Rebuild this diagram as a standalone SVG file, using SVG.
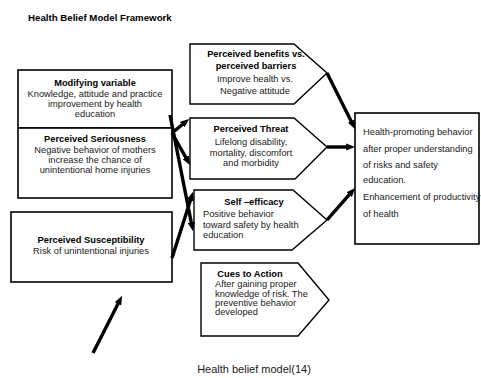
<svg xmlns="http://www.w3.org/2000/svg" width="481" height="378" viewBox="0 0 481 378">
<defs>
<marker id="ah" viewBox="0 0 10 8" markerWidth="9" markerHeight="7.5" refX="2" refY="4" orient="auto" markerUnits="userSpaceOnUse">
<path d="M0,0 L10,4 L0,8 z" fill="#000"/>
</marker>
<style>
text{font-family:"Liberation Sans",Arial,sans-serif;font-size:9.3px;fill:#1a1a1a}
.b{font-weight:bold;fill:#000}
.c{text-anchor:middle}
.box{fill:#fff;stroke:#000;stroke-width:1.6}
.pent{fill:#fff;stroke:#000;stroke-width:1.4}
.conn line{stroke:#000;stroke-width:3.4;marker-end:url(#ah)}
</style>
</defs>
<rect width="481" height="378" fill="#fff"/>
<text x="28" y="21" class="b" style="font-size:9.7px">Health Belief Model Framework</text>

<g id="modifying">
<rect class="box" x="18" y="70" width="154" height="58"/>
<text x="95" y="86" class="b c">Modifying variable</text>
<text x="95" y="97" class="c">Knowledge, attitude and practice</text>
<text x="95" y="107" class="c">improvement by health</text>
<text x="95" y="117" class="c">education</text>
</g>
<g id="seriousness">
<rect class="box" x="18" y="128" width="154" height="70"/>
<text x="95" y="142" class="b c">Perceived Seriousness</text>
<text x="95" y="153" class="c">Negative behavior of mothers</text>
<text x="95" y="163" class="c">increase the chance of</text>
<text x="95" y="173" class="c">unintentional home injuries</text>
</g>
<g id="susceptibility">
<rect class="box" x="11" y="212" width="161" height="70"/>
<text x="91" y="243" class="b c">Perceived Susceptibility</text>
<text x="91" y="254" class="c">Risk of unintentional injuries</text>
</g>
<g id="benefits">
<path class="pent" d="M190,44 L294,44 L327,73 L294,104 L190,104 Z"/>
<text x="256" y="57" class="b c">Perceived benefits vs.</text>
<text x="256" y="69" class="b c">perceived barriers</text>
<text x="255" y="82" class="c">Improve health vs.</text>
<text x="255" y="94" class="c">Negative attitude</text>
</g>
<g id="threat">
<path class="pent" d="M190,118 L294,118 L327,147 L295,179 L190,179 Z"/>
<text x="251" y="132" class="b c">Perceived Threat</text>
<text x="251" y="145" class="c">Lifelong disability,</text>
<text x="251" y="156" class="c">mortality, discomfort</text>
<text x="251" y="166" class="c">and morbidity</text>
</g>
<g id="selfefficacy">
<path class="pent" d="M194,190 L293,190 L327,220 L292,250 L194,250 Z"/>
<text x="254" y="205" class="b c">Self –efficacy</text>
<text x="203" y="217">Positive behavior</text>
<text x="203" y="228">toward safety by health</text>
<text x="203" y="238">education</text>
</g>
<g id="cues">
<path class="pent" d="M201,263 L298,263 L329,300 L298,336 L201,336 Z"/>
<text x="250" y="277" class="b c">Cues to Action</text>
<text x="215" y="287">After gaining proper</text>
<text x="215" y="297">knowledge of risk. The</text>
<text x="215" y="306">preventive behavior</text>
<text x="215" y="315">developed</text>
</g>
<g id="outcome">
<rect class="box" x="355" y="113" width="124" height="131"/>
<text x="363" y="135">Health-promoting behavior</text>
<text x="363" y="152">after proper understanding</text>
<text x="363" y="168">of risks and safety</text>
<text x="363" y="183">education.</text>
<text x="363" y="200">Enhancement of productivity</text>
<text x="363" y="217">of health</text>
</g>

<g id="connectors" class="conn">
<line x1="170" y1="115" x2="191.6" y2="224.1"/>
<line x1="172" y1="133" x2="183.6" y2="123.5"/>
<line x1="172" y1="133" x2="186.6" y2="158.9"/>
<line x1="172" y1="258" x2="190.9" y2="198.7"/>
<line x1="327" y1="73" x2="351.9" y2="122.7"/>
<line x1="327" y1="147" x2="348" y2="147"/>
<line x1="327" y1="220" x2="350.4" y2="193.3"/>
<line x1="93" y1="353" x2="118.8" y2="302.2"/>
</g>

<text x="254" y="373" class="c" style="font-size:11px">Health belief model(14)</text>
</svg>
